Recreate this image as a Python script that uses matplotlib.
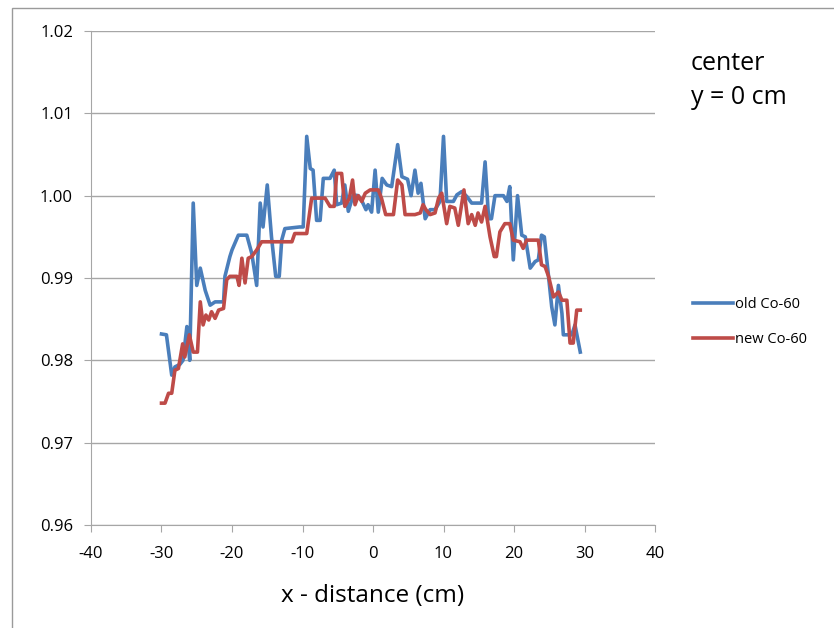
import matplotlib
matplotlib.use("Agg")
import matplotlib.pyplot as plt
from matplotlib.patches import Rectangle

# ---- data ----
old_x = [-30.0, -29.3, -28.55, -28.1, -27.4, -26.95, -26.4, -26.0, -25.5, -25.0, -24.5,
         -23.8, -23.1, -22.4, -21.2, -21.0, -20.3, -20.0, -19.1, -17.9, -17.2, -16.5,
         -16.0, -15.6, -15.0, -14.4, -13.8, -13.3, -12.95, -12.5, -10.4, -9.9, -9.4,
         -8.9, -8.5, -8.0, -7.5, -7.05, -6.1, -5.5, -5.15, -4.45, -4.0, -3.5, -2.8,
         -2.1, -1.6, -1.0, -0.7, -0.2, 0.3, 0.75, 1.3, 1.95, 2.65, 3.5, 4.1, 4.9, 5.4,
         5.95, 6.4, 6.8, 7.4, 8.1, 8.8, 9.5, 10.0, 10.45, 11.4, 11.9, 12.6, 13.3, 14.0,
         15.4, 15.9, 16.4, 16.8, 17.3, 18.5, 19.0, 19.4, 19.9, 20.5, 21.1, 21.6, 22.3,
         23.0, 23.45, 23.9, 24.3, 24.9, 25.35, 25.8, 26.3, 26.8, 27.0, 28.2, 28.65, 29.4]
old_y = [0.9832, 0.9831, 0.9782, 0.9792, 0.9795, 0.9800, 0.9841, 0.9800, 0.9991, 0.9891,
         0.9912, 0.9885, 0.9867, 0.9871, 0.9871, 0.9902, 0.9926, 0.9934, 0.9952, 0.9952,
         0.9930, 0.9891, 0.9991, 0.9962, 1.0013, 0.9950, 0.9902, 0.9902, 0.9946, 0.9960,
         0.9962, 0.9962, 1.0072, 1.0033, 1.0031, 0.9970, 0.9970, 1.0021, 1.0021, 1.0031,
         0.9989, 0.9991, 1.0013, 0.9981, 1.0001, 1.0000, 0.9994, 0.9983, 0.9989, 0.9980,
         1.0031, 0.9980, 1.0021, 1.0013, 1.0011, 1.0062, 1.0023, 1.0020, 1.0000, 1.0031,
         1.0003, 1.0015, 0.9972, 0.9983, 0.9983, 0.9993, 1.0072, 0.9993, 0.9993, 1.0001,
         1.0005, 0.9999, 0.9991, 0.9991, 1.0041, 0.9972, 0.9972, 1.0000, 1.0000, 0.9993,
         1.0011, 0.9922, 1.0000, 0.9952, 0.9950, 0.9912, 0.9920, 0.9922, 0.9952, 0.9950,
         0.9902, 0.9865, 0.9843, 0.9891, 0.9857, 0.9831, 0.9831, 0.9843, 0.9810]

new_x = [-30.0, -29.5, -29.0, -28.55, -28.1, -27.6, -27.0, -26.7, -26.05, -25.5, -24.9,
         -24.5, -24.1, -23.7, -23.3, -22.9, -22.4, -21.9, -21.2, -20.75, -20.3, -19.3,
         -19.0, -18.6, -18.15, -17.7, -17.2, -16.5, -15.8, -11.5, -11.1, -9.4, -8.7,
         -6.8, -6.1, -5.5, -5.15, -4.45, -4.0, -3.35, -2.9, -2.55, -2.1, -1.6, -1.1,
         -0.4, 0.75, 1.2, 1.8, 2.9, 3.5, 4.1, 4.55, 5.95, 6.7, 7.1, 7.5, 8.1, 8.8, 9.3,
         9.75, 10.45, 10.9, 11.6, 12.1, 12.9, 13.5, 14.0, 14.5, 14.9, 15.4, 15.9, 16.6,
         17.2, 17.5, 18.0, 18.7, 19.4, 19.9, 20.85, 21.3, 21.8, 23.45, 23.9, 24.4, 24.9,
         25.6, 26.3, 26.8, 27.5, 27.95, 28.4, 28.9, 29.4]
new_y = [0.9748, 0.9748, 0.9760, 0.9760, 0.9788, 0.9790, 0.9820, 0.9804, 0.9831, 0.9810,
         0.9810, 0.9871, 0.9843, 0.9855, 0.9849, 0.9859, 0.9851, 0.9861, 0.9863, 0.9898,
         0.9902, 0.9902, 0.9891, 0.9924, 0.9894, 0.9924, 0.9926, 0.9934, 0.9944, 0.9944,
         0.9954, 0.9954, 0.9997, 0.9997, 0.9987, 0.9987, 1.0027, 1.0027, 0.9987, 0.9997,
         1.0019, 0.9989, 1.0000, 0.9993, 1.0003, 1.0007, 1.0007, 0.9997, 0.9977, 0.9977,
         1.0019, 1.0013, 0.9977, 0.9977, 0.9979, 0.9989, 0.9983, 0.9977, 0.9979, 0.9997,
         1.0003, 0.9966, 0.9987, 0.9985, 0.9964, 1.0007, 0.9966, 0.9977, 0.9964, 0.9979,
         0.9968, 0.9987, 0.9950, 0.9926, 0.9926, 0.9956, 0.9966, 0.9966, 0.9946, 0.9944,
         0.9936, 0.9946, 0.9946, 0.9916, 0.9914, 0.9902, 0.9877, 0.9883, 0.9873, 0.9873,
         0.9821, 0.9821, 0.9861, 0.9861]

x_ticks = [-40, -30, -20, -10, 0, 10, 20, 30, 40]
y_ticks = [0.96, 0.97, 0.98, 0.99, 1.00, 1.01, 1.02]

W, H = 834, 628
fig = plt.figure(figsize=(W / 100, H / 100), dpi=100)
font = "Open Sans"

# outer chart border
fig.patches.append(Rectangle((12 / W, -0.05), 1.2, (H - 8) / H + 0.05,
                             transform=fig.transFigure, fill=False,
                             edgecolor="#9a9a9a", linewidth=1.0))

ax = fig.add_axes([91 / W, 1 - 525 / H, (655 - 91) / W, (525 - 31) / H])
ax.plot(old_x, old_y, color="#4a7ebb", lw=2.6, label="old Co-60", solid_joinstyle="round")
ax.plot(new_x, new_y, color="#be4b48", lw=2.6, label="new Co-60", solid_joinstyle="round")

ax.set_xlim(-40, 40)
ax.set_ylim(0.96, 1.02)
ax.set_xticks(x_ticks)
ax.set_yticks(y_ticks)
ax.set_xticklabels([str(t) for t in x_ticks], fontfamily=font, fontsize=12)
ax.set_yticklabels([f"{t:.2f}" for t in y_ticks], fontfamily=font, fontsize=12)
ax.grid(axis="y", color="#a6a6a6", lw=1.0)
ax.set_axisbelow(True)
for s in ("top", "right"):
    ax.spines[s].set_visible(False)
for s in ("left", "bottom"):
    ax.spines[s].set_color("#a6a6a6")
ax.tick_params(axis="x", color="#a6a6a6", length=5, direction="out", pad=10)
ax.tick_params(axis="y", color="#a6a6a6", length=5, direction="out", pad=8)
ax.set_xlabel("x - distance (cm)", fontfamily=font, fontsize=17.5, labelpad=16)

leg = ax.legend(loc="center left", bbox_to_anchor=(680 / W, 1 - 322 / H),
                bbox_transform=fig.transFigure, frameon=False,
                prop={"family": font, "size": 10.5}, handlelength=2.7,
                handletextpad=0.15, labelspacing=1.4)

fig.text(691 / W, 1 - 63 / H, "center", fontfamily=font, fontsize=18, va="center")
fig.text(691 / W, 1 - 98 / H, "y = 0 cm", fontfamily=font, fontsize=18, va="center")

fig.savefig("out.png", dpi=100)
